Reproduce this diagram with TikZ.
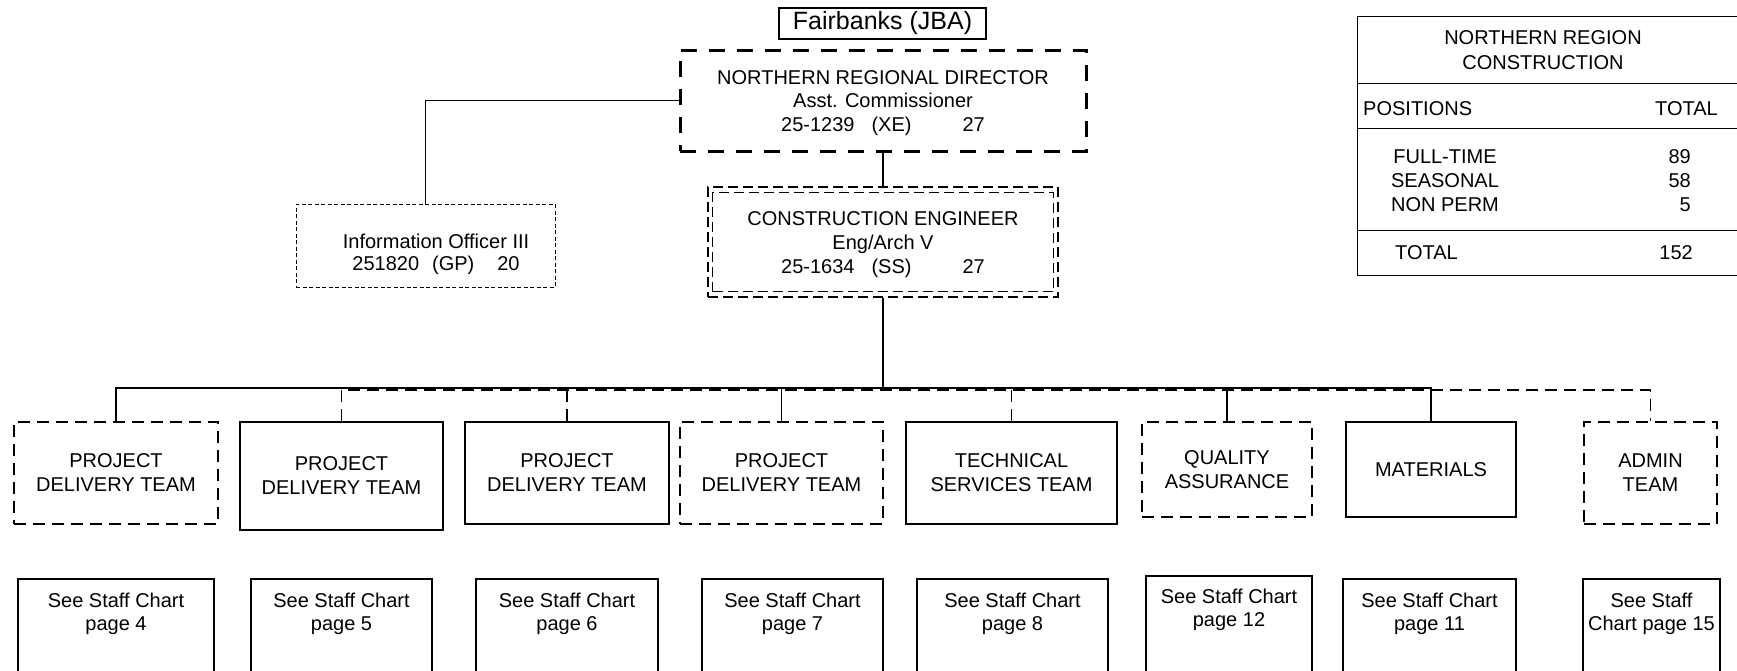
\documentclass[tikz,border=0pt]{standalone}
\usepackage{fontspec}
\setmainfont{Liberation Sans}
\begin{document}
\begin{tikzpicture}[x=1pt,y=-1pt,
  txt/.style={font=\fontsize{20}{24}\selectfont, align=center, inner sep=0pt},
  sbox/.style={draw, line width=1.3pt, inner sep=0pt, font=\fontsize{20}{24}\selectfont, align=center},
  dbox/.style={sbox, dash pattern=on 12pt off 7pt},
  conn/.style={line width=1.5pt},
  dconn/.style={line width=1.3pt, dash pattern=on 12pt off 7pt},
  tline/.style={line width=1pt}]
\clip (0,0) rectangle (1737,670);
\fill[white] (0,0) rectangle (1737,670);

% top
\node[sbox, minimum width=207pt, minimum height=31pt, font=\fontsize{25}{30}\selectfont] (fair) at (882.5,23.5) {Fairbanks (JBA)};
\node[sbox, line width=3pt, dash pattern=on 16pt off 12pt, minimum width=406pt, minimum height=101pt] (dir) at (883,100.5) {};
\node[txt, font=\fontsize{20}{23.5}\selectfont] (dirt) at (883,103)
  {NORTHERN REGIONAL DIRECTOR\\Asst. Commissioner\\25-1239\hspace{17pt}(XE)\hspace{51pt}27};
\node[draw, line width=1.3pt, dash pattern=on 10pt off 5pt, minimum width=350pt, minimum height=110pt, inner sep=0pt] (ce) at (883,242) {};
\node[draw, line width=1.3pt, dash pattern=on 10pt off 5pt, minimum width=341pt, minimum height=99pt, inner sep=0pt] (cein) at (883,242) {};
\node[txt, font=\fontsize{20}{24}\selectfont] (cet) at (883,244.5)
  {CONSTRUCTION ENGINEER\\Eng/Arch V\\25-1634\hspace{17pt}(SS)\hspace{51pt}27};
\node[draw, line width=0.8pt, dash pattern=on 4pt off 2.5pt, minimum width=259pt, minimum height=83pt, inner sep=0pt] (info) at (425.5,245.5) {};
\node[txt, font=\fontsize{20}{22}\selectfont] (infot) at (436,254) {Information Officer III\\251820\hspace{13pt}(GP)\hspace{23pt}20};

% table
\draw[tline] (1357,16) rectangle (1745,275);
\draw[tline] (1357,83) -- (1745,83);
\draw[tline] (1357,128) -- (1745,128);
\draw[tline] (1357,230) -- (1745,230);
\node[txt, font=\fontsize{20}{25}\selectfont] (ttitle) at (1543,50) {NORTHERN REGION\\CONSTRUCTION};
\node[txt, anchor=west] (tpos) at (1363,109) {POSITIONS};
\node[txt, anchor=east] (ttot) at (1718,109) {TOTAL};
\node[txt] (tkinds) at (1445,181) {FULL-TIME\\SEASONAL\\NON PERM};
\node[txt, align=right, anchor=east] (tnums) at (1691,181) {89\\58\\5};
\node[txt, anchor=west] (tsum) at (1395,253) {TOTAL};
\node[txt, anchor=east] (tsumn) at (1693,253) {152};

% team boxes
\node[dbox, minimum width=204pt, minimum height=102pt] (pdt1) at (116,473) {PROJECT\\DELIVERY TEAM};
\node[sbox, minimum width=203pt, minimum height=108pt] (pdt2) at (341.5,476) {PROJECT\\DELIVERY TEAM};
\node[sbox, minimum width=204pt, minimum height=102pt] (pdt3) at (567,473) {PROJECT\\DELIVERY TEAM};
\node[dbox, minimum width=203pt, minimum height=102pt] (pdt4) at (781.5,473) {PROJECT\\DELIVERY TEAM};
\node[sbox, minimum width=211pt, minimum height=102pt] (tech) at (1011.5,473) {TECHNICAL\\SERVICES TEAM};
\node[dbox, minimum width=170pt, minimum height=95pt] (qa) at (1227,469.5) {QUALITY\\ASSURANCE};
\node[sbox, minimum width=170pt, minimum height=95pt] (mat) at (1431,469.5) {MATERIALS};
\node[dbox, minimum width=133pt, minimum height=102pt] (admin) at (1650.5,473) {ADMIN\\TEAM};

% connectors
\coordinate (bus) at (883,388);
\coordinate (busd) at (883,390);
\draw[conn] (info.north) |- (dir.west);
\draw[conn] (dir.south) -- (ce.north);
\draw[line width=2pt] (ce.south) -- (bus);
\draw[conn] (pdt1.north) |- (bus) -| (mat.north);
\draw[conn] (pdt4.north) -- (pdt4.north |- bus);
\draw[conn] (qa.north) -- (qa.north |- bus);
\draw[dconn] (pdt2.north) |- (busd) -| (admin.north);
\draw[dconn] (pdt3.north) -- (pdt3.north |- busd);
\draw[dconn] (tech.north) -- (tech.north |- busd);

% staff chart boxes
\node[sbox, minimum width=196pt, minimum height=100pt] (s1) at (116,629) {};
\node[sbox, minimum width=181pt, minimum height=100pt] (s2) at (341.5,629) {};
\node[sbox, minimum width=182pt, minimum height=100pt] (s3) at (567,629) {};
\node[sbox, minimum width=181pt, minimum height=100pt] (s4) at (792.5,629) {};
\node[sbox, minimum width=191pt, minimum height=100pt] (s5) at (1012.5,629) {};
\node[sbox, minimum width=166pt, minimum height=100pt] (s6) at (1229,626) {};
\node[sbox, minimum width=173pt, minimum height=100pt] (s7) at (1429.5,629) {};
\node[sbox, minimum width=137pt, minimum height=100pt] (s8) at (1651.5,629) {};
\begin{scope}[every node/.style={txt, font=\fontsize{20}{23}\selectfont}]
\node (s1t) at (116,614) {See Staff Chart\\page 4};
\node (s2t) at (341.5,614) {See Staff Chart\\page 5};
\node (s3t) at (567,614) {See Staff Chart\\page 6};
\node (s4t) at (792.5,614) {See Staff Chart\\page 7};
\node (s5t) at (1012.5,614) {See Staff Chart\\page 8};
\node (s6t) at (1229,610) {See Staff Chart\\page 12};
\node (s7t) at (1429.5,614) {See Staff Chart\\page 11};
\node (s8t) at (1651.5,614) {See Staff\\Chart page 15};
\end{scope}
\end{tikzpicture}
\end{document}
